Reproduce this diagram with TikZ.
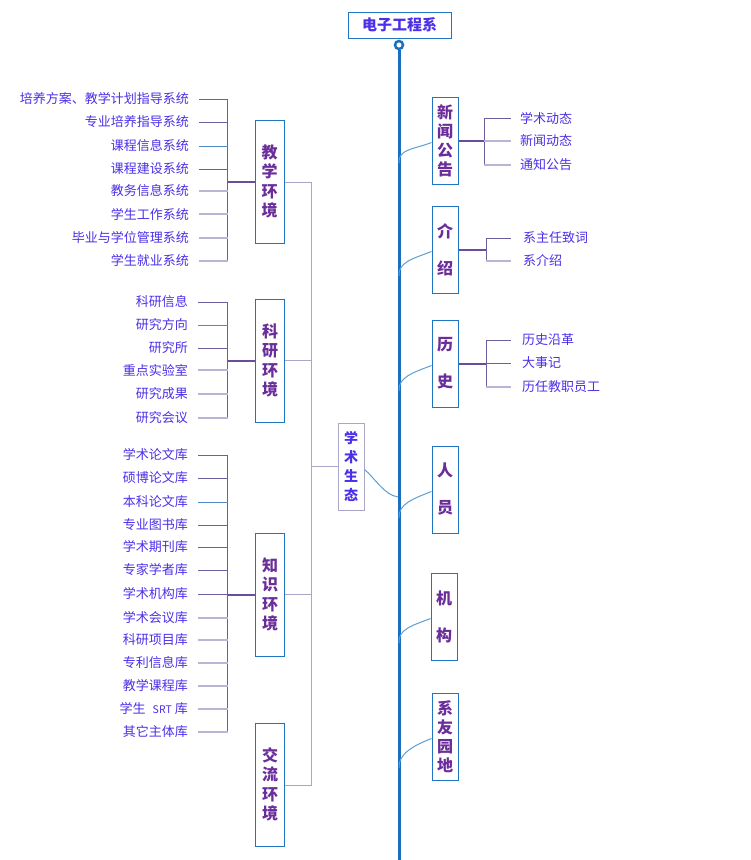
\documentclass[tikz,border=0pt]{standalone}
\usepackage{fontspec}
\newfontfamily\cjk{Noto Sans CJK SC}
\definecolor{spineblue}{HTML}{1A6FC0}
\definecolor{boxblue}{HTML}{1F75C2}
\definecolor{curveblue}{HTML}{5B9FD6}
\definecolor{boxtext}{HTML}{6B2D9A}
\definecolor{leaftext}{HTML}{4A30E8}
\definecolor{leafdark}{HTML}{6E5E9E}
\definecolor{leaflight}{HTML}{BCB4D4}
\definecolor{leafblue}{HTML}{4F8AC6}
\definecolor{bracket}{HTML}{AAA6C8}
\definecolor{grpline}{HTML}{6A4C9C}
\begin{document}
\begin{tikzpicture}[x=1pt,y=-1pt,
  lbox/.style={draw=boxblue, line width=1pt, minimum width=29pt, minimum height=123pt, inner sep=0pt, align=center, text=boxtext, font=\cjk\bfseries\fontsize{16}{19.5}\selectfont},
  rbox/.style={draw=boxblue, line width=1pt, minimum width=26pt, minimum height=87pt, inner sep=0pt, align=center, text=boxtext},
  fourchar/.style={font=\cjk\bfseries\fontsize{16}{19}\selectfont},
  twochar/.style={font=\cjk\bfseries\fontsize{16}{37}\selectfont},
  ltext/.style={anchor=east, inner xsep=10pt, inner ysep=0pt, text=leaftext, font=\cjk\fontsize{13}{15}\selectfont},
  rtext/.style={anchor=west, inner xsep=9pt, inner ysep=0pt, text=leaftext, font=\cjk\fontsize{13}{15}\selectfont},
  dark/.style={draw=leafdark, line width=1pt},
  light/.style={draw=leaflight, line width=1.6pt},
  blu/.style={draw=leafblue, line width=1pt},
  grp/.style={draw=grpline, line width=2pt},
  brk/.style={draw=bracket, line width=1pt},
  curve/.style={draw=curveblue, line width=1pt}]
\useasboundingbox[fill=white] (0,0) rectangle (751,860);

% title and spine
\node[draw=boxblue, line width=1pt, minimum width=103pt, minimum height=26pt, inner sep=0pt, text=leaftext, font=\cjk\bfseries\fontsize{15}{17}\selectfont] (title) at (399.5,25) {电子工程系};
\node[circle, draw=spineblue, line width=2.5pt, fill=white, minimum size=8pt, inner sep=0pt] (root) at (399,45) {};
\coordinate (spend) at (399,860);
\draw[draw=spineblue, line width=3pt] (root.south) -- (spend);

% right boxes
\node[rbox, fourchar] (xw) at (445,140.5) {新\\闻\\公\\告};
\node[rbox, twochar] (js) at (445,249.5) {介\\绍};
\node[rbox, twochar] (ls) at (445,363.5) {历\\史};
\node[rbox, twochar] (ry) at (445,489.5) {人\\员};
\node[rbox, twochar] (jg) at (444,616.5) {机\\构};
\node[rbox, fourchar] (xy) at (445,736.5) {系\\友\\园\\地};

% curves to spine
\coordinate (s1) at (399,163);
\coordinate (s2) at (399,276);
\coordinate (s3) at (399,391);
\coordinate (s4) at (399,518);
\coordinate (s5) at (399,643);
\coordinate (s6) at (399,768);
\foreach \b/\s in {xw/s1,js/s2,ls/s3,ry/s4,jg/s5,xy/s6}{
  \draw[curve] ([yshift=-2pt]\b.west) .. controls +(-18,7) and +(-1,-14) .. (\s);
}

% 新闻公告 leaves
\node[rtext] (r11) at (511,118) {学术动态};
\node[rtext] (r12) at (511,141) {新闻动态};
\node[rtext] (r13) at (511,165) {通知公告};
\coordinate (j1) at (484,141);
\draw[grp] (xw.east |- j1) -- (j1);
\draw[dark] (j1 |- r11.west) -- (j1 |- r13.west);
\draw[dark] (j1 |- r11.west) -- (r11.west);
\draw[light] (j1 |- r12.west) -- (r12.west);
\draw[light] (j1 |- r13.west) -- (r13.west);

% 介绍 leaves
\node[rtext, inner xsep=12pt] (r21) at (511,238) {系主任致词};
\node[rtext, inner xsep=12pt] (r22) at (511,261) {系介绍};
\coordinate (j2) at (486,250);
\draw[grp] (js.east |- j2) -- (j2);
\draw[dark] (j2 |- r21.west) -- (j2 |- r22.west);
\draw[dark] (j2 |- r21.west) -- (r21.west);
\draw[light] (j2 |- r22.west) -- (r22.west);

% 历史 leaves
\node[rtext, inner xsep=11pt] (r31) at (511,340) {历史沿革};
\node[rtext, inner xsep=11pt] (r32) at (511,363) {大事记};
\node[rtext, inner xsep=11pt] (r33) at (511,387) {历任教职员工};
\coordinate (j3) at (486,364);
\draw[grp] (ls.east |- j3) -- (j3);
\draw[dark] (j3 |- r31.west) -- (j3 |- r33.west);
\draw[dark] (j3 |- r31.west) -- (r31.west);
\draw[dark] (j3 |- r32.west) -- (r32.west);
\draw[light] (j3 |- r33.west) -- (r33.west);

% 学术生态
\node[draw=bracket, line width=1pt, minimum width=26pt, minimum height=87pt, inner sep=0pt, align=center, text=leaftext, font=\cjk\bfseries\fontsize{14}{19}\selectfont] (xs) at (351,466.5) {学\\术\\生\\态};
\coordinate (s0) at (398,497);
\draw[curve] ([yshift=-3pt]xs.east) .. controls +(10,8) and +(-14,-2) .. (s0);

% left boxes
\node[lbox] (jx) at (269.5,181.5) {教\\学\\环\\境};
\node[lbox] (ky) at (270,360.5) {科\\研\\环\\境};
\node[lbox] (zs) at (270,594.5) {知\\识\\环\\境};
\node[lbox] (jl) at (270,784.5) {交\\流\\环\\境};

% bracket
\coordinate (bt) at (311.5,182);
\coordinate (bb) at (311.5,785);
\draw[brk] (bt) -- (bb);
\draw[brk] (jx.east |- bt) -- (bt);
\draw[brk] (ky.east) -- (ky.east -| bt);
\draw[brk] (zs.east) -- (zs.east -| bt);
\draw[brk] (jl.east |- bb) -- (bb);
\draw[brk] (xs.west) -- (xs.west -| bt);

% 教学环境 leaves
\node[ltext] (a1) at (199,99) {培养方案、教学计划指导系统};
\node[ltext] (a2) at (199,122) {专业培养指导系统};
\node[ltext] (a3) at (199,146) {课程信息系统};
\node[ltext] (a4) at (199,169) {课程建设系统};
\node[ltext] (a5) at (199,191) {教务信息系统};
\node[ltext] (a6) at (199,214) {学生工作系统};
\node[ltext] (a7) at (199,238) {毕业与学位管理系统};
\node[ltext] (a8) at (199,261) {学生就业系统};
\coordinate (ja) at (227.5,182);
\draw[dark] (ja |- a1.east) -- (ja |- a8.east);
\foreach \n/\s in {a1/dark,a2/dark,a3/blu,a4/dark,a5/light,a6/light,a7/light,a8/light}{
  \draw[\s] (\n.east) -- (\n.east -| ja);
}
\draw[grp] (ja) -- (jx.west |- ja);

% 科研环境 leaves
\node[ltext] (b1) at (198,302) {科研信息};
\node[ltext] (b2) at (198,325) {研究方向};
\node[ltext] (b3) at (198,348) {研究所};
\node[ltext] (b4) at (198,370) {重点实验室};
\node[ltext] (b5) at (198,394) {研究成果};
\node[ltext] (b6) at (198,418) {研究会议};
\coordinate (jb) at (227.5,361);
\draw[dark] (jb |- b1.east) -- (jb |- b6.east);
\foreach \n/\s in {b1/dark,b2/blu,b3/dark,b4/light,b5/light,b6/light}{
  \draw[\s] (\n.east) -- (\n.east -| jb);
}
\draw[grp] (jb) -- (ky.west |- jb);

% 知识环境 leaves
\node[ltext] (c1) at (198,455) {学术论文库};
\node[ltext] (c2) at (198,478) {硕博论文库};
\node[ltext] (c3) at (198,502) {本科论文库};
\node[ltext] (c4) at (198,525) {专业图书库};
\node[ltext] (c5) at (198,547) {学术期刊库};
\node[ltext] (c6) at (198,570) {专家学者库};
\node[ltext] (c7) at (198,594) {学术机构库};
\node[ltext] (c8) at (198,618) {学术会议库};
\node[ltext] (c9) at (198,640) {科研项目库};
\node[ltext] (c10) at (198,663) {专利信息库};
\node[ltext] (c11) at (198,686) {教学课程库};
\node[ltext] (c12) at (198,709) {学生\hspace{7pt}{\fontsize{10.5}{12}\selectfont SRT}\hspace{3pt}库};
\node[ltext] (c13) at (198,732) {其它主体库};
\coordinate (jc) at (227.5,595);
\draw[dark] (jc |- c1.east) -- (jc |- c13.east);
\foreach \n/\s in {c1/dark,c2/dark,c3/blu,c4/dark,c5/dark,c6/dark,c7/dark,c8/light,c9/light,c10/light,c11/light,c12/light,c13/light}{
  \draw[\s] (\n.east) -- (\n.east -| jc);
}
\draw[grp] (jc) -- (zs.west |- jc);
\end{tikzpicture}
\end{document}
